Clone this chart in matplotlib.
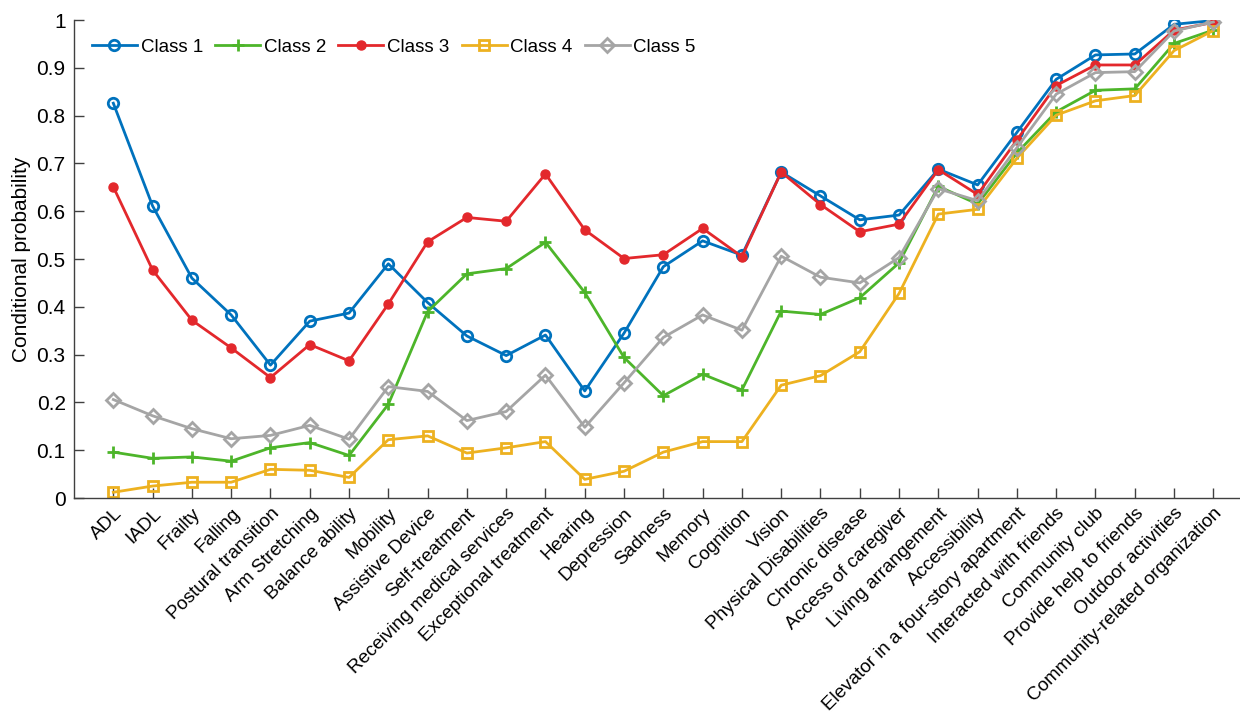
import numpy as np
import matplotlib
matplotlib.use("Agg")
import matplotlib.pyplot as plt

plt.rcParams['font.family'] = ['Liberation Sans', 'DejaVu Sans']

categories = ['ADL', 'IADL', 'Frailty', 'Falling', 'Postural transition', 'Arm Stretching',
              'Balance ability', 'Mobility', 'Assistive Device', 'Self-treatment',
              'Receiving medical services', 'Exceptional treatment', 'Hearing', 'Depression',
              'Sadness', 'Memory', 'Cognition', 'Vision', 'Physical Disabilities',
              'Chronic disease', 'Access of caregiver', 'Living arrangement', 'Accessibility',
              'Elevator in a four-story apartment', 'Interacted with friends', 'Community club',
              'Provide help to friends', 'Outdoor activities', 'Community-related organization']

class1 = [0.826, 0.611, 0.460, 0.383, 0.278, 0.370, 0.387, 0.490, 0.409, 0.339, 0.298, 0.341,
          0.224, 0.345, 0.484, 0.538, 0.508, 0.682, 0.632, 0.582, 0.592, 0.688, 0.655, 0.765,
          0.876, 0.927, 0.929, 0.991, 0.999]
class2 = [0.096, 0.083, 0.086, 0.077, 0.105, 0.116, 0.089, 0.196, 0.390, 0.469, 0.480, 0.535,
          0.430, 0.294, 0.214, 0.259, 0.226, 0.391, 0.384, 0.419, 0.492, 0.652, 0.615, 0.722,
          0.808, 0.853, 0.856, 0.951, 0.979]
class3 = [0.651, 0.477, 0.372, 0.314, 0.252, 0.321, 0.287, 0.406, 0.536, 0.587, 0.579, 0.678,
          0.561, 0.501, 0.509, 0.564, 0.505, 0.682, 0.614, 0.557, 0.573, 0.687, 0.635, 0.749,
          0.863, 0.906, 0.906, 0.979, 0.995]
class4 = [0.012, 0.025, 0.033, 0.033, 0.060, 0.058, 0.043, 0.122, 0.130, 0.094, 0.105, 0.118,
          0.039, 0.056, 0.096, 0.118, 0.118, 0.236, 0.256, 0.306, 0.428, 0.594, 0.604, 0.711,
          0.801, 0.831, 0.842, 0.936, 0.978]
class5 = [0.206, 0.172, 0.145, 0.124, 0.131, 0.152, 0.123, 0.233, 0.223, 0.162, 0.181, 0.257,
          0.148, 0.241, 0.336, 0.383, 0.351, 0.506, 0.462, 0.450, 0.503, 0.647, 0.622, 0.733,
          0.845, 0.890, 0.892, 0.977, 0.996]

x = np.arange(1, len(categories) + 1)

fig = plt.figure(figsize=(12.4, 7.18), dpi=100)
ax = fig.add_axes([0.0597, 0.3064, 0.9505, 0.6657])

lw = 2.0
ax.plot(x, class1, '-o', color='#0072BD', lw=lw, ms=7.5, mfc='none', mew=2.0, label='Class 1')
ax.plot(x, class2, '-+', color='#4DB52A', lw=lw, ms=8, mew=2.0, label='Class 2')
ax.plot(x, class3, '-o', color='#E3282C', lw=lw, ms=6.5, label='Class 3')
ax.plot(x, class4, '-s', color='#EDB120', lw=lw, ms=7, mfc='none', mew=2.0, label='Class 4')
ax.plot(x, class5, '-D', color='#A5A5A5', lw=lw, ms=7, mfc='none', mew=2.0, label='Class 5')

ax.set_xlim(0, 30)
ax.set_ylim(0, 1)
ax.set_xticks(x)
ax.set_xticklabels(categories, rotation=45, ha='right', va='top', rotation_mode='anchor', fontsize=13.6)
yt = np.round(np.arange(0, 1.01, 0.1), 1)
ax.set_yticks(yt)
ax.set_yticklabels(['0' if v == 0 else ('1' if v == 1 else f'{v:g}') for v in yt], fontsize=15)
ax.tick_params(direction='in', length=7, width=1.0, color='#404040', pad=6)
ax.tick_params(axis='x', pad=5)
for side in ['top', 'right']:
    ax.spines[side].set_visible(False)
for side in ['left', 'bottom']:
    ax.spines[side].set_color('#404040')
    ax.spines[side].set_linewidth(1.0)
ax.set_ylabel('Conditional probability', fontsize=15, labelpad=4)

ax.legend(loc='upper left', ncol=5, frameon=False, fontsize=13.5, handlelength=2.4,
          columnspacing=0.65, handletextpad=0.2, borderaxespad=0.3,
          bbox_to_anchor=(0.004, 0.988))

fig.savefig('out.png', dpi=100)
